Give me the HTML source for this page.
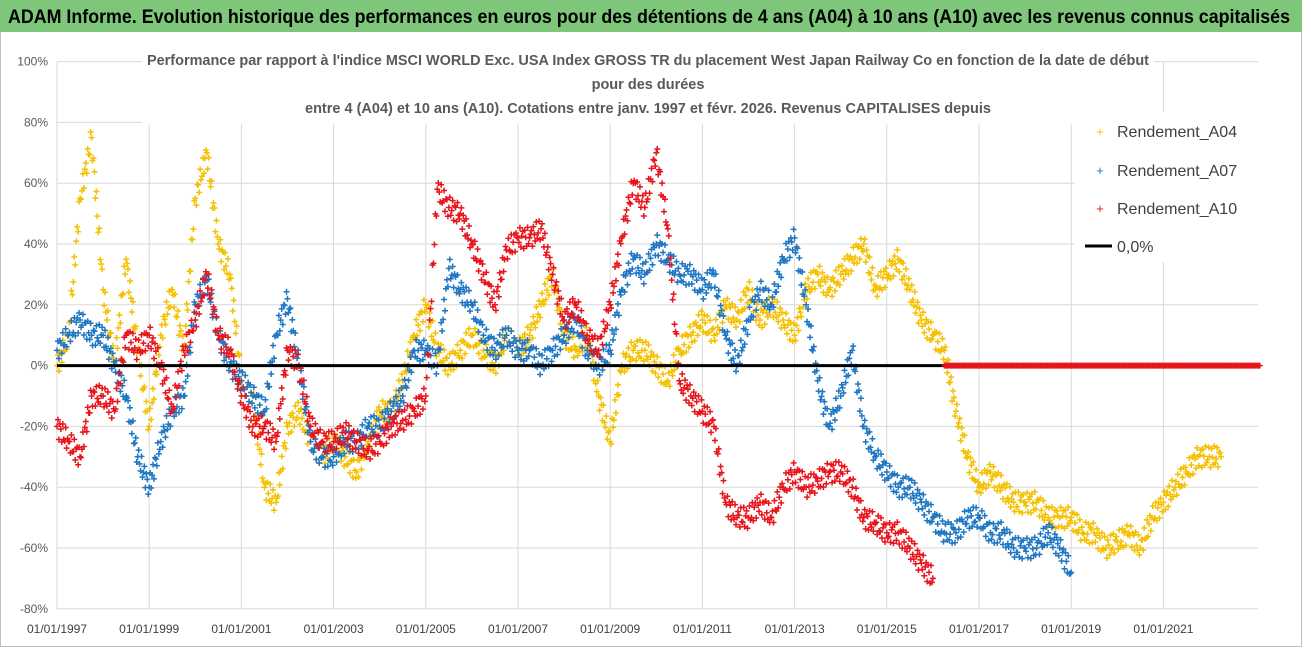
<!DOCTYPE html>
<html><head><meta charset="utf-8"><style>
html,body{margin:0;padding:0;background:#fff;}
svg{display:block;font-family:"Liberation Sans Narrow","Liberation Sans",sans-serif;}
</style></head><body>
<svg id="chart" width="1302" height="647" viewBox="0 0 1302 647" xmlns="http://www.w3.org/2000/svg">
<rect x="0.5" y="0.5" width="1301" height="646" fill="#fff" stroke="#bfbfbf"/>
<rect x="0" y="0" width="1302" height="32" fill="#7dc67a"/>
<text x="8" y="23" font-size="19" font-weight="bold" fill="#000" textLength="1282" lengthAdjust="spacingAndGlyphs">ADAM Informe. Evolution historique des performances en euros pour des détentions de 4 ans (A04) à 10 ans (A10) avec les revenus connus capitalisés</text>
<g id="grid"></g>
<g id="ylabels"></g>
<g id="xlabels"></g>
<g id="marks"></g>
<line id="zero-line" x1="57" x2="1258" stroke="#000" stroke-width="3"/>
<g id="redzero"></g>
<rect x="142" y="46" width="1012" height="78" fill="#fff"/>
<text x="648" y="65" font-size="14.5" font-weight="bold" fill="#595959" text-anchor="middle" textLength="1002" lengthAdjust="spacingAndGlyphs">Performance par rapport à l'indice MSCI WORLD Exc. USA Index GROSS TR  du placement West Japan Railway Co en fonction de la date de début</text>
<text x="648" y="89" font-size="14.5" font-weight="bold" fill="#595959" text-anchor="middle">pour des durées</text>
<text x="648" y="113" font-size="14.5" font-weight="bold" fill="#595959" text-anchor="middle" textLength="686" lengthAdjust="spacingAndGlyphs">entre 4 (A04) et 10 ans (A10). Cotations entre janv. 1997 et févr. 2026. Revenus CAPITALISES depuis</text>
<g>
<rect x="1075" y="112" width="190" height="150" fill="#fff"/>
<g><text x="1100" y="136" font-size="13" fill="#f5c000" text-anchor="middle">+</text><text x="1117" y="137" font-size="16" fill="#404040">Rendement_A04</text></g>
<g><text x="1100" y="175" font-size="13" fill="#1f77c4" text-anchor="middle">+</text><text x="1117" y="176" font-size="16" fill="#404040">Rendement_A07</text></g>
<g><text x="1100" y="213" font-size="13" fill="#e8141b" text-anchor="middle">+</text><text x="1117" y="214" font-size="16" fill="#404040">Rendement_A10</text></g>
<g><line x1="1085" x2="1112" y1="246" y2="246" stroke="#000" stroke-width="3"/><text x="1117" y="252" font-size="16" fill="#404040">0,0%</text></g>
</g>
</svg>
<script>
const yTicks=[100,80,60,40,20,0,-20,-40,-60,-80];
const xTickYears=[1997,1999,2001,2003,2005,2007,2009,2011,2013,2015,2017,2019,2021];
const startYear=1997;
const stepYears=0.25;
const a04=[0,10,55,75,25,0,35,5,-20,10,25,5,55,70,40,30,-5,-10,-40,-45,-20,-15,-25,-30,-25,-30,-35,-25,-15,-15,-5,10,20,5,0,5,10,5,0,10,5,10,20,30,10,5,10,-10,-25,0,5,5,0,-5,5,10,15,10,20,15,25,15,20,15,10,25,30,25,30,35,40,25,30,35,25,15,10,5,-15,-30,-40,-35,-40,-45,-45,-45,-50,-50,-50,-55,-55,-60,-58,-55,-60,-50,-45,-40,-35,-30,-30,-30];
const a07=[5,10,15,10,10,0,-10,-30,-40,-25,-15,-10,20,28,10,0,-5,-10,-15,10,22,0,-25,-30,-30,-25,-25,-20,-20,-15,-10,5,5,0,32,25,20,10,5,10,5,5,0,5,10,15,5,0,5,25,35,30,40,35,30,30,25,30,10,0,15,25,20,35,42,20,-5,-20,-10,5,-20,-30,-35,-40,-40,-45,-50,-55,-55,-50,-50,-55,-55,-60,-60,-60,-55,-60,-68];
const a10=[-20,-25,-30,-10,-10,-15,10,5,10,0,-15,5,15,30,10,5,-10,-20,-20,-25,5,0,-20,-25,-25,-22,-25,-28,-25,-20,-18,-15,-10,58,52,50,40,30,20,38,42,42,45,30,15,20,10,5,20,42,60,52,70,45,-5,-10,-15,-20,-45,-50,-50,-45,-50,-40,-35,-40,-38,-35,-35,-40,-50,-52,-55,-55,-60,-65,-70];
const a10ZeroStart=2016.25, a10ZeroEnd=2023.1;

const X0=57, PX_PER_YEAR=46.1, Y0=365.6, PX_PER_PCT=3.04;
const xs=y=>X0+(y-1997)*PX_PER_YEAR;
const ys=v=>Y0-v*PX_PER_PCT;
const NS="http://www.w3.org/2000/svg";
function mk(tag,attrs,parent){const e=document.createElementNS(NS,tag);for(const k in attrs)e.setAttribute(k,attrs[k]);parent.appendChild(e);return e;}
const grid=document.getElementById('grid'),yl=document.getElementById('ylabels'),xl=document.getElementById('xlabels'),marks=document.getElementById('marks');
yTicks.forEach(v=>{
  const l=mk('line',{x1:X0,x2:1258,y1:ys(v),y2:ys(v),stroke:'#d9d9d9','stroke-width':1},grid);
  
  
  const t=mk('text',{x:48,y:ys(v)+4,'font-size':12,fill:'#595959','text-anchor':'end'},yl);
  t.textContent=v+'%';
  
  
});
xTickYears.forEach(yr=>{
  const l=mk('line',{x1:xs(yr),x2:xs(yr),y1:ys(100),y2:ys(-80),stroke:'#d9d9d9','stroke-width':1},grid);
  
  
  const t=mk('text',{x:xs(yr),y:633,'font-size':12,fill:'#404040','text-anchor':'middle'},xl);
  t.textContent='01/01/'+yr;
  
  
});
document.getElementById('zero-line').setAttribute('y1',ys(0));
document.getElementById('zero-line').setAttribute('y2',ys(0));
function plus(g,x,y,c){mk('path',{d:`M${x-3},${y}h6M${x},${y-3}v6`,stroke:c,'stroke-width':1.5,fill:'none'},g);}
function series(data,color,name){
  const g=mk('g',{},marks);
  
  
  for(let i=0;i<data.length;i++){
    const t0=startYear+i*stepYears;
    plus(g,xs(t0),ys(data[i]),color);
    if(i<data.length-1){
      const n=12;
      for(let k=1;k<n;k++){
        const f=k/n, v=data[i]+(data[i+1]-data[i])*f+3.5*Math.sin(i*7+k*2.3);
        plus(g,xs(t0+stepYears*f),ys(v),color);
      }
    }
  }
}
series(a04,'#f5c000','series-a04');
series(a07,'#1f77c4','series-a07');
series(a10,'#e8141b','series-a10');
const rz=document.getElementById('redzero');


for(let t=a10ZeroStart;t<=a10ZeroEnd;t+=0.03) plus(rz,xs(t),ys(0),'#e8141b');
</script>
</body></html>
